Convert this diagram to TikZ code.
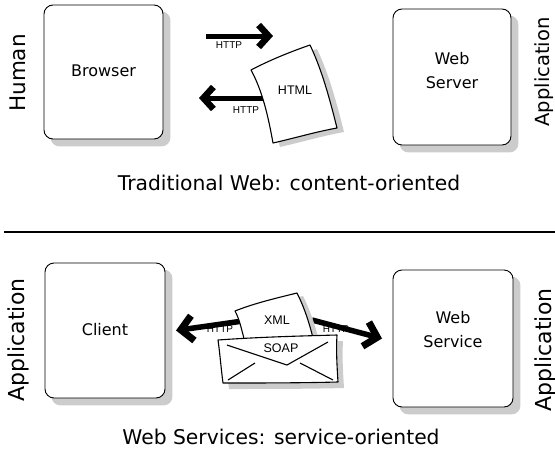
\documentclass[tikz,border=0pt]{standalone}
\usepackage{fontspec}
\setmainfont{DejaVu Sans}
\newfontfamily\labelfont{Liberation Sans}
\usetikzlibrary{arrows.meta,calc,backgrounds}
\definecolor{shade}{gray}{0.80}
\begin{document}
\begin{tikzpicture}[x=1pt,y=-1pt,
  box/.style={draw, line width=0.9pt, rounded corners=9pt, fill=white,
    inner sep=0pt, minimum width=#1},
  boxtext/.style={align=center, inner sep=0pt,
    font=\fontsize{16}{24}\selectfont},
  shadowfill/.style={fill=shade, rounded corners=9pt},
  fat/.style={line width=5pt,
    -{Straight Barb[length=10pt,width=22pt,line width=6.5pt]}},
  fatter/.style={line width=5.5pt,
    -{Straight Barb[length=12pt,width=25pt,line width=7pt]}},
  proto/.style={font=\labelfont\fontsize{10}{11}\selectfont, inner sep=0.5pt},
  doc/.style={font=\labelfont\fontsize{12.5}{14}\selectfont, inner sep=0.5pt},
  side/.style={rotate=90, font=\fontsize{#1}{20}\selectfont, inner sep=0pt},
  caption/.style={font=\fontsize{20.3}{24}\selectfont, inner sep=0pt},
  paper/.style={draw, line width=1.1pt, fill=white, line join=round},
  papershade/.style={fill=shade}]

\useasboundingbox (0,0) rectangle (555,453);

% ---------- Traditional web ----------
\node[box=119pt, minimum height=134pt] (browser) at (103.5,72) {};
\node[boxtext] (browserText) at (103.5,71) {Browser};
\node[box=118pt, minimum height=136pt] (server) at (452,77) {};
\node[boxtext] (serverText) at (452,71) {Web\\Server};
\node[side=21.5] (human) at (18,73) {Human};
\node[side=19.5] (app1) at (544,72) {Application};
\node[caption] (cap1) at (289,183) {Traditional Web: content-oriented};

% request and response
\coordinate (reqA) at (206,36);
\coordinate (reqB) at (273,36);
\draw[fat] (reqA) -- (reqB);
\node[proto] (http1) at (229,45) {HTTP};
\coordinate (resA) at (266,98);
\coordinate (resB) at (199,98);
\draw[fat] (resA) -- (resB);

% HTML page
\fill[papershade] (258,74) .. controls (277,64) and (297,56) .. (317,49)
  .. controls (329,74) and (337,104) .. (344,132)
  .. controls (322,136) and (302,142) .. (280,147) -- cycle;
\draw[paper] (251,70) .. controls (270,60) and (290,52) .. (310,45)
  .. controls (322,70) and (330,100) .. (337,128)
  .. controls (315,132) and (295,138) .. (273,143)
  .. controls (268,115) and (262,90) .. (251,70) -- cycle;
\node[doc] (html) at (295,90) {HTML};
\node[proto] (http2) at (246,110.5) {HTTP};

% ---------- separator ----------
\coordinate (sepL) at (4,231);
\coordinate (sepR) at (555,231);
\draw[shade, line width=1pt] ($(sepL)+(0,1.4)$) -- ($(sepR)+(0,1.4)$);
\draw[line width=1pt] (sepL) -- (sepR);

% ---------- Web services ----------
\node[box=120pt, minimum height=135pt] (client) at (105,330.5) {};
\node[boxtext] (clientText) at (105,330) {Client};
\node[box=120pt, minimum height=137pt] (service) at (453,338.5) {};
\node[boxtext] (serviceText) at (453,330) {Web\\Service};
\node[side=22] (app2) at (18,340) {Application};
\node[side=22] (app3) at (545,350) {Application};
\node[caption] (cap2) at (281,437) {Web Services: service-oriented};

\coordinate (outA) at (250,320);
\draw[fatter] (outA) -- (client.east -| 176,320);
\coordinate (inA) at (312,320);
\draw[fatter] (inA) -- (service.west -| 382,320);

% XML document
\fill[papershade] (241,314) .. controls (261,306) and (283,301) .. (303,296)
  .. controls (309,308) and (314,321) .. (319,341) -- (251,345) -- cycle;
\draw[paper] (235,311) .. controls (255,303) and (277,298) .. (297,293)
  .. controls (303,305) and (308,318) .. (313,338) -- (245,342)
  .. controls (242,332) and (240,320) .. (235,311) -- cycle;
\node[doc] (xml) at (277,320) {XML};

% SOAP envelope
\fill[papershade] (224,346) .. controls (266,343) and (306,342) .. (343,341)
  .. controls (342,356) and (343,372) .. (344,388)
  .. controls (306,389) and (266,389) .. (229,389) -- cycle;
\draw[paper] (218,340) .. controls (260,337) and (300,336) .. (337,335)
  .. controls (336,350) and (337,366) .. (338,382)
  .. controls (300,383) and (260,383) .. (223,383)
  .. controls (221,368) and (220,354) .. (218,340) -- cycle;
\coordinate (flapL) at (227,345);
\coordinate (flapM) at (287,365);
\coordinate (flapR) at (328,342);
\draw[line width=1.1pt, line join=round] (flapL) -- (flapM) -- (flapR);
\coordinate (lowL1) at (228,380);
\coordinate (lowL2) at (255,363);
\coordinate (lowR1) at (300,363);
\coordinate (lowR2) at (333,380);
\draw[line width=1.1pt] (lowL1) -- (lowL2);
\draw[line width=1.1pt] (lowR1) -- (lowR2);
\node[doc] (soap) at (281,348) {SOAP};

\node[proto] (http3) at (220,329.5) {HTTP};
\node[proto] (http4) at (336,329.5) {HTTP};

% box shadows
\begin{scope}[on background layer]
  \foreach \b in {browser,server,client,service}
    \fill[shadowfill] ($(\b.south west)+(7,7)$) rectangle ($(\b.north east)+(7,7)$);
\end{scope}
\end{tikzpicture}
\end{document}
